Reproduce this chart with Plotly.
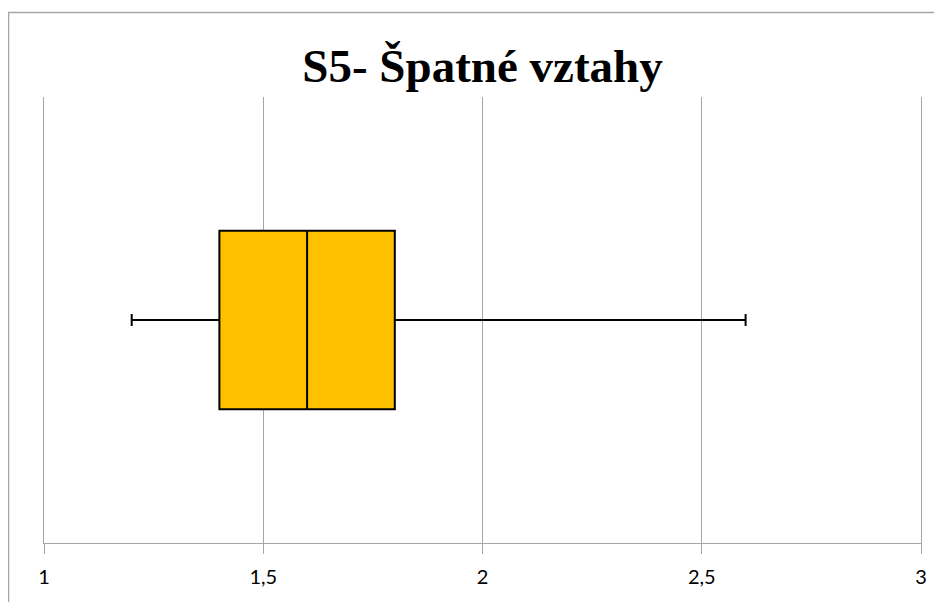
import plotly.graph_objects as go

title_text = "S5- Špatné vztahy"
category = ["S5"]
lower_whisker = [1.2]
q1_vals = [1.4]
median_vals = [1.6]
q3_vals = [1.8]
upper_whisker = [2.6]
tick_vals = [1, 1.5, 2, 2.5, 3]
tick_text = ["1", "1,5", "2", "2,5", "3"]

W, H = 934, 594
L, R, T, B = 36, W - 913, 89, H - 535

fig = go.Figure()
fig.add_trace(go.Box(
    y=[0],
    q1=q1_vals, median=median_vals, q3=q3_vals,
    lowerfence=lower_whisker, upperfence=upper_whisker,
    orientation="h",
    fillcolor="#FFC000",
    line=dict(color="black", width=2),
    width=0.8,
    whiskerwidth=0.067,
    boxpoints=False,
    hoverinfo="skip",
    name=category[0],
))

fig.update_layout(
    width=W, height=H,
    margin=dict(l=L, r=R, t=T, b=B),
    paper_bgcolor="white", plot_bgcolor="white",
    showlegend=False,
    title=dict(text="<b>" + title_text + "</b>", x=474.5 / W, xanchor="center",
               y=1 - 58 / H, yanchor="middle", yref="container",
               font=dict(family="Liberation Serif", size=47, color="black")),
    xaxis=dict(range=[1, 3], tickvals=tick_vals, ticktext=tick_text,
               showgrid=True, gridcolor="#a6a6a6", gridwidth=1,
               showline=True, linecolor="#a6a6a6", linewidth=1,
               ticks="outside", ticklen=10, tickcolor="#a6a6a6",
               zeroline=False, ticklabelstandoff=6,
               tickfont=dict(family="Lato", size=20, color="black")),
    yaxis=dict(range=[-1, 1], showgrid=False, showticklabels=False,
               zeroline=False, showline=True, mirror=True,
               linecolor="#a6a6a6", linewidth=1, ticks=""),
    shapes=[dict(type="rect", xref="paper", yref="paper",
                 x0=(0.5 - L) / (W - L - R), x1=1.2, y0=-0.3,
                 y1=1 + (T - 4.5) / (H - T - B),
                 line=dict(color="#a6a6a6", width=1.5), layer="below")],
)

fig.write_html("out.html")
